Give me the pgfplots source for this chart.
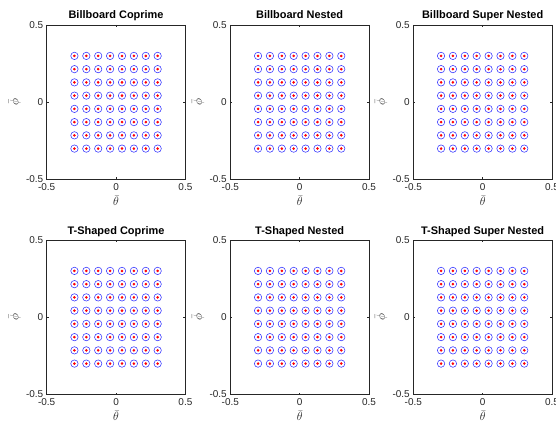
\documentclass[border=0pt]{standalone}
\usepackage{fontspec}
\setmainfont{Liberation Sans}
\usepackage{pgfplots}
\pgfplotsset{compat=1.18}
\usepackage{pgfplotstable}
\definecolor{mblue}{rgb}{0.2,0.2,1}
\definecolor{mred}{rgb}{1,0,0}
\definecolor{axgray}{rgb}{0.15,0.15,0.15}
\pgfplotstableread{
x y
-0.3 -0.3
-0.2143 -0.3
-0.1286 -0.3
-0.0429 -0.3
0.0429 -0.3
0.1286 -0.3
0.2143 -0.3
0.3 -0.3
-0.3 -0.2143
-0.2143 -0.2143
-0.1286 -0.2143
-0.0429 -0.2143
0.0429 -0.2143
0.1286 -0.2143
0.2143 -0.2143
0.3 -0.2143
-0.3 -0.1286
-0.2143 -0.1286
-0.1286 -0.1286
-0.0429 -0.1286
0.0429 -0.1286
0.1286 -0.1286
0.2143 -0.1286
0.3 -0.1286
-0.3 -0.0429
-0.2143 -0.0429
-0.1286 -0.0429
-0.0429 -0.0429
0.0429 -0.0429
0.1286 -0.0429
0.2143 -0.0429
0.3 -0.0429
-0.3 0.0429
-0.2143 0.0429
-0.1286 0.0429
-0.0429 0.0429
0.0429 0.0429
0.1286 0.0429
0.2143 0.0429
0.3 0.0429
-0.3 0.1286
-0.2143 0.1286
-0.1286 0.1286
-0.0429 0.1286
0.0429 0.1286
0.1286 0.1286
0.2143 0.1286
0.3 0.1286
-0.3 0.2143
-0.2143 0.2143
-0.1286 0.2143
-0.0429 0.2143
0.0429 0.2143
0.1286 0.2143
0.2143 0.2143
0.3 0.2143
-0.3 0.3
-0.2143 0.3
-0.1286 0.3
-0.0429 0.3
0.0429 0.3
0.1286 0.3
0.2143 0.3
0.3 0.3
}\truegrid
\pgfplotstableread{
x y
-0.3 -0.3
-0.2143 -0.3
-0.1286 -0.3
-0.0429 -0.3
0.0429 -0.3
0.1286 -0.3
0.2143 -0.3
0.3 -0.3
-0.3 -0.2143
-0.2143 -0.2143
-0.1286 -0.2143
-0.0429 -0.2143
0.0429 -0.2143
0.1286 -0.2143
0.2143 -0.2143
0.3 -0.2143
-0.3 -0.1286
-0.2143 -0.1286
-0.1286 -0.1286
-0.0429 -0.1286
0.0429 -0.1286
0.1286 -0.1286
0.2143 -0.1286
0.3 -0.1286
-0.3 -0.0429
-0.2143 -0.0429
-0.1286 -0.0429
-0.0429 -0.0429
0.0429 -0.0429
0.1286 -0.0429
0.2143 -0.0429
0.3 -0.0429
-0.3 0.0429
-0.2143 0.0429
-0.1286 0.0429
-0.0429 0.0429
0.0429 0.0429
0.1286 0.0429
0.2143 0.0429
0.3 0.0429
-0.3 0.1286
-0.2143 0.1286
-0.1286 0.1286
-0.0429 0.1286
0.0429 0.1286
0.1286 0.1286
0.2143 0.1286
0.3 0.1286
-0.3 0.2143
-0.2143 0.2143
-0.1286 0.2143
-0.0429 0.2143
0.0429 0.2143
0.1286 0.2143
0.2143 0.2143
0.3 0.2143
-0.3 0.3
-0.2143 0.3
-0.1286 0.3
-0.0429 0.3
0.0429 0.3
0.1286 0.3
0.2143 0.3
0.3 0.3
}\estgrid
\pgfplotsset{myax/.style={
  scale only axis, width=138.7bp, height=154.5bp,
  anchor=south west,
  xmin=-0.5, xmax=0.5, ymin=-0.5, ymax=0.5,
  xtick={-0.5,0,0.5}, ytick={-0.5,0,0.5},
  tick align=inside, major tick length=2bp,
  tick style={axgray, line width=0.5bp},
  axis line style={axgray, line width=0.6bp},
  /pgf/number format/assume math mode=true,
  ticklabel style={font=\fontsize{10}{12}\selectfont, text=axgray},
  xticklabel style={yshift=-1bp},
  xlabel={$\bar{\theta}$}, ylabel={$\bar{\phi}$},
  every axis x label/.style={at={(axis description cs:0.5,0)}, anchor=center, yshift=-21.5bp, font=\fontsize{12}{14}\selectfont, text=axgray},
  every axis y label/.style={at={(axis description cs:-0.232,0.5)}, rotate=90, anchor=center, font=\fontsize{12}{14}\selectfont, text=axgray},
  every axis title/.style={at={(axis description cs:0.5,1)}, anchor=base, yshift=6bp, font=\bfseries\fontsize{11}{13}\selectfont},
  clip=false,
}}
\newcommand{\panel}[3]{%
\begin{axis}[myax, at={(#1,#2)}, title={#3}]
\addplot[only marks, mark=o, mark size=3.7bp, mark options={mblue, line width=0.55bp}] table[x=x,y=y] {\truegrid};
\addplot[only marks, mark=*, mark size=1.1bp, mark options={mred, draw=mred, fill=mred}] table[x=x,y=y] {\estgrid};
\end{axis}}
\begin{document}
\begin{tikzpicture}
\path[use as bounding box] (0,0) rectangle (556bp,425bp);
\panel{46.7bp}{245.5bp}{Billboard Coprime}
\panel{230.3bp}{245.5bp}{Billboard Nested}
\panel{413.3bp}{245.5bp}{Billboard Super Nested}
\panel{46.7bp}{30.5bp}{T-Shaped Coprime}
\panel{230.3bp}{30.5bp}{T-Shaped Nested}
\panel{413.3bp}{30.5bp}{T-Shaped Super Nested}
\end{tikzpicture}
\end{document}
